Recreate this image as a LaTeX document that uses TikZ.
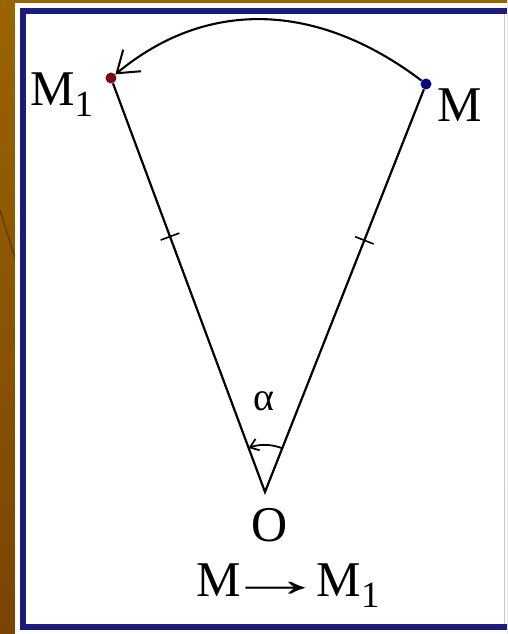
\documentclass[tikz,border=0pt]{standalone}
\usepackage{fontspec}
\setmainfont{Liberation Serif}
\usetikzlibrary{arrows.meta,calc}
\definecolor{Slide}{HTML}{9A6400}
\definecolor{SlideDark}{HTML}{7A4400}
\definecolor{Navy}{HTML}{1C1C7E}
\definecolor{Pale}{HTML}{C4C4E8}
\definecolor{DotRed}{HTML}{7A0A14}
\definecolor{DotBlue}{HTML}{0A0A80}
\newcommand{\lowone}{\raisebox{-11pt}{\fontsize{37}{37}\selectfont 1}}
\tikzset{
  lbl/.style={inner sep=0pt, font=\fontsize{50}{54}\selectfont},
  pt/.style={circle, inner sep=0pt, minimum size=11pt},
  side/.style={line width=2.2pt, draw=black},
  tickmark/.style={draw, line width=1.6pt, rectangle, inner sep=0pt,
    minimum width=0pt, minimum height=20pt, sloped},
  sweep/.style={line width=2.1pt,
    -{Straight Barb[length=20pt,width=28pt,line width=2pt]}},
  turn/.style={line width=1.8pt, -{Straight Barb[length=8pt,width=12pt]}}
}
\begin{document}
\begin{tikzpicture}[x=1pt,y=1pt]
  \useasboundingbox (0,0) rectangle (507,634);
  % slide frame
  \shade[top color=Slide, bottom color=SlideDark] (0,0) rectangle (507,634);
  \draw[SlideDark!80!black, line width=1.2pt] (0,424) -- (15,376);
  \fill[white] (15,0) rectangle (507,631);
  \draw[Pale, line width=1pt] (504,7) -- (504,623);
  \draw[Navy, line width=6.5pt] (507,623) -- (23,623) -- (23,7) -- (507,7);
  % points
  \node[pt, fill=DotRed] (M1) at (111,556) {};
  \node[pt, fill=DotBlue] (M) at (426,550) {};
  \coordinate (O) at (265,142);
  % sides and rotation
  \draw[side] (M1) -- node[tickmark,pos=0.375]{} (O)
    -- node[tickmark,pos=0.625]{} (M);
  \draw[sweep] (M) .. controls (315,634) and (205,634) .. (M1);
  \draw[turn] ($(O)+(68.5:47)$) arc[start angle=68.5, end angle=110.4, radius=47];
  % labels
  \node[lbl, anchor=base west] (lM1) at (30,528) {M\lowone};
  \node[lbl, anchor=base west] (lM) at (437,512) {M};
  \node[lbl, font=\fontsize{40}{42}\selectfont] (la) at (264,233) {α};
  \node[lbl, anchor=base] (lO) at (270,92) {O};
  \node[lbl, anchor=base west] (lmove) at (196,37)
    {M\kern-15pt\scalebox{2}[1]{→}\kern-9ptM\lowone};
\end{tikzpicture}
\end{document}
